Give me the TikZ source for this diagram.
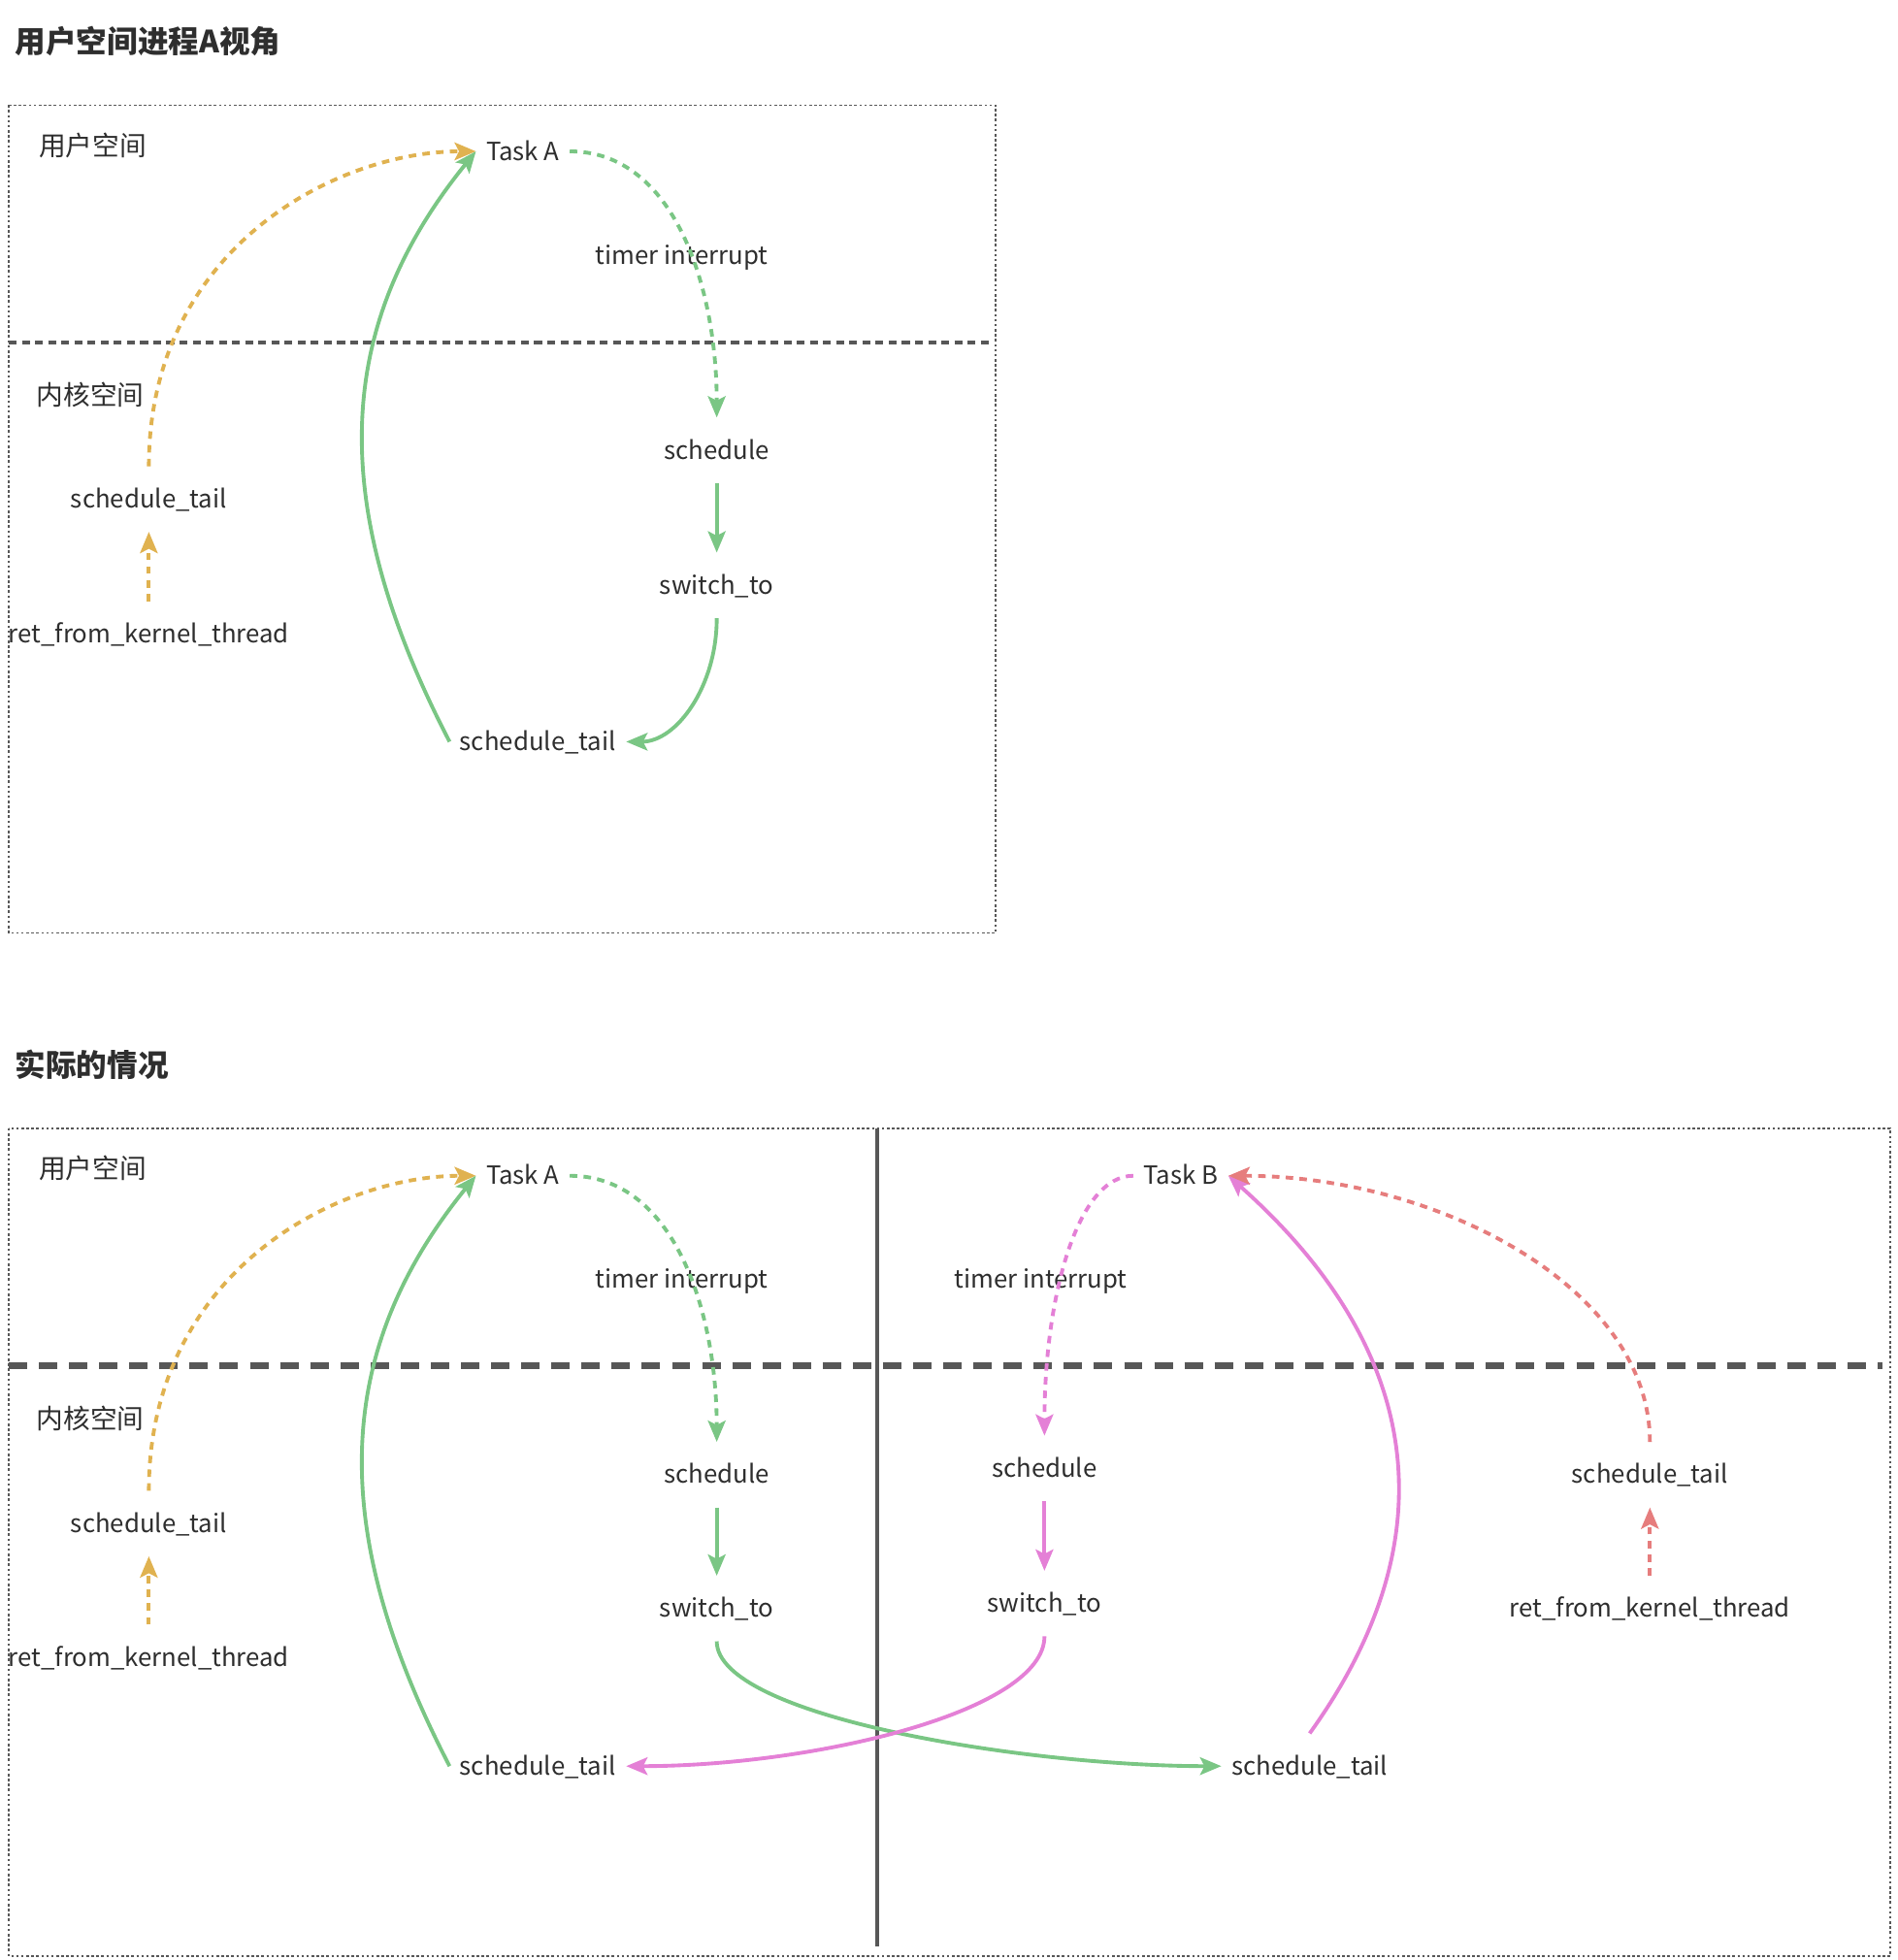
\documentclass[tikz,border=0pt]{standalone}
\usepackage{fontspec}
\setmainfont{Noto Sans CJK SC}
\usetikzlibrary{arrows.meta}
\definecolor{txt}{HTML}{2E2E2E}
\definecolor{gline}{HTML}{575757}
\definecolor{cgreen}{RGB}{122,198,132}
\definecolor{cyellow}{RGB}{224,178,80}
\definecolor{cpink}{RGB}{228,128,214}
\definecolor{cred}{RGB}{230,125,125}
\tikzset{
  lbl/.style={inner xsep=8pt, inner ysep=0pt, text height=17pt, text depth=3pt, minimum height=52pt, text=txt, font=\fontsize{20}{24}\selectfont},
  zone/.style={inner sep=0pt, text=txt, anchor=west, font=\fontsize{21.5}{26}\selectfont},
  title/.style={inner sep=0pt, text=txt, anchor=west, font=\fontsize{24.5}{30}\selectfont\bfseries},
  frame/.style={draw=gline, line width=1.2pt, dash pattern=on 2pt off 2pt},
  arr/.style={line width=3pt, -{Stealth[length=17pt,width=14pt,inset=3.5pt]}},
  dsh/.style={dash pattern=on 6pt off 5pt},
}
\begin{document}
\begin{tikzpicture}[x=1pt,y=-1pt]
\useasboundingbox (0,0) rectangle (1517,1567);
% ---------- top ----------
\node[title] (t1) at (12,33) {用户空间进程A视角};
\draw[frame] (7,84) rectangle (796,746);
\draw[gline, line width=3pt, dash pattern=on 6.3pt off 4.2pt] (7,274) -- (793,274);
\node[zone] (us1) at (31,116) {用户空间};
\node[zone] (ks1) at (29,316) {内核空间};
\node[lbl] (taskA) at (418,121) {Task A};
\node[lbl] (tiA) at (545,204) {timer interrupt};
\node[lbl] (schA) at (573,360) {schedule};
\node[lbl] (swA) at (573,468) {switch\_to};
\node[lbl] (stA) at (430,593) {schedule\_tail};
\node[lbl] (stL) at (119,399) {schedule\_tail};
\node[lbl] (rfL) at (119,507) {ret\_from\_kernel\_thread};
\draw[arr, dsh, cyellow] (stL.north) .. controls +(0,-173) and +(-113,0) .. (taskA.west);
\draw[arr, dsh, cyellow] (rfL.north) -- (stL.south);
\draw[arr, dsh, cgreen] (taskA.east) .. controls +(84,0) and +(0,-103) .. (schA.north);
\draw[arr, cgreen] (schA.south) -- (swA.north);
\draw[arr, cgreen] (swA.south) .. controls +(0,55) and +(40,0) .. (stA.east);
\draw[arr, cgreen] (stA.west) .. controls +(-100,-193) and +(-112,138) .. (taskA.west);
% ---------- bottom ----------
\node[title] (t2) at (12,851) {实际的情况};
\draw[frame] (7,902) rectangle (1511,1564);
\draw[gline, line width=3pt] (701,902) coordinate (vt) -- (701,1556) coordinate (vb);
\draw[gline, line width=5pt, dash pattern=on 14.7pt off 9.4pt] (7,1092) -- (1505,1092);
\node[zone] (us2) at (31,934) {用户空间};
\node[zone] (ks2) at (29,1134) {内核空间};
\node[lbl] (taskA2) at (418,940) {Task A};
\node[lbl] (tiA2) at (545,1023) {timer interrupt};
\node[lbl] (schA2) at (573,1179) {schedule};
\node[lbl] (swA2) at (573,1286) {switch\_to};
\node[lbl] (stA2) at (430,1412) {schedule\_tail};
\node[lbl] (stL2) at (119,1218) {schedule\_tail};
\node[lbl] (rfL2) at (119,1325) {ret\_from\_kernel\_thread};
\node[lbl] (taskB) at (944,940) {Task B};
\node[lbl] (tiB) at (832,1023) {timer interrupt};
\node[lbl] (schB) at (835,1174) {schedule};
\node[lbl] (swB) at (835,1282) {switch\_to};
\node[lbl] (stB) at (1047,1412) {schedule\_tail};
\node[lbl] (stR) at (1319,1179) {schedule\_tail};
\node[lbl] (rfR) at (1319,1286) {ret\_from\_kernel\_thread};
\draw[arr, dsh, cyellow] (stL2.north) .. controls +(0,-173) and +(-113,0) .. (taskA2.west);
\draw[arr, dsh, cyellow] (rfL2.north) -- (stL2.south);
\draw[arr, dsh, cgreen] (taskA2.east) .. controls +(84,0) and +(0,-103) .. (schA2.north);
\draw[arr, cgreen] (schA2.south) -- (swA2.north);
\draw[arr, cgreen] (swA2.south) .. controls +(0,60) and +(-158,0) .. (stB.west);
\draw[arr, cgreen] (stA2.west) .. controls +(-100,-193) and +(-112,138) .. (taskA2.west);
\draw[arr, dsh, cpink] (taskB.west) .. controls +(-45,0) and +(0,-110) .. (schB.north);
\draw[arr, cpink] (schB.south) -- (swB.north);
\draw[arr, cpink] (swB.south) .. controls +(0,60) and +(150,0) .. (stA2.east);
\draw[arr, cpink] (stB.north) .. controls +(113,-157) and +(155,138) .. (taskB.east);
\draw[arr, dsh, cred] (stR.north) .. controls +(0,-123) and +(168,0) .. (taskB.east);
\draw[arr, dsh, cred] (rfR.north) -- (stR.south);
\end{tikzpicture}
\end{document}
